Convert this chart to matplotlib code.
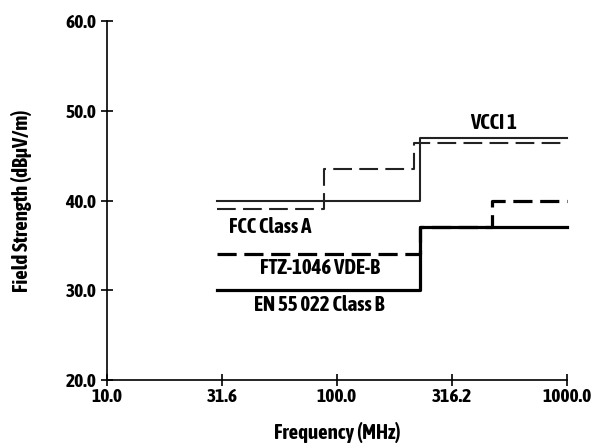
import numpy as np
import matplotlib
matplotlib.use("Agg")
import matplotlib.pyplot as plt
from matplotlib import font_manager

# Grenzwerte (Frequenz in MHz, Feldstaerke in dBuV/m)
vcci_f = [30, 230, 230, 1000]
vcci_db = [40, 40, 47, 47]

fcc_f = [30, 88, 88, 216, 216, 1000]
fcc_db = [39, 39, 43.5, 43.5, 46.4, 46.4]

ftz_f = [30, 230, 230, 470, 470, 1000]
ftz_db = [34, 34, 37, 37, 40, 40]

en_f = [30, 230, 230, 1000]
en_db = [30, 30, 37, 37]

x_ticks = [10.0, 31.6, 100.0, 316.2, 1000.0]
y_ticks = [20.0, 30.0, 40.0, 50.0, 60.0]

# schmale fette Schrift suchen
stretch_num = {'ultra-condensed': 100, 'extra-condensed': 200, 'condensed': 300,
               'semi-condensed': 400, 'normal': 500}
found = None
for f in font_manager.fontManager.ttflist:
    st = f.stretch if isinstance(f.stretch, int) else stretch_num.get(f.stretch, 500)
    w = f.weight if isinstance(f.weight, int) else (700 if 'bold' in str(f.weight) else 400)
    if st <= 400 and w >= 600:
        found = (f.name, f.stretch)
        if 'Narrow' in f.name or 'Condensed' in f.name:
            break
if found:
    plt.rcParams['font.family'] = [found[0], 'DejaVu Sans']
    plt.rcParams['font.stretch'] = found[1]
    fs, fs_tick, fs_lab = 15, 14, 15
else:
    plt.rcParams['font.family'] = ['DejaVu Sans']
    fs, fs_tick, fs_lab = 10.5, 10, 10
plt.rcParams['font.weight'] = 'bold'

fig = plt.figure(figsize=(5.97, 4.43), dpi=100)
ax = fig.add_axes([0.1792, 0.1422, 0.7705, 0.8104])

ax.plot(en_f, en_db, color='black', lw=2.3, clip_on=False)
ax.plot(ftz_f, ftz_db, color='black', lw=2.3, dashes=(6, 2.4), clip_on=False)
ax.plot(vcci_f, vcci_db, color='#222222', lw=1.5, clip_on=False)
ax.plot(fcc_f, fcc_db, color='#222222', lw=1.5, dashes=(9, 3.5), clip_on=False)

ax.set_xscale('log')
ax.set_xlim(10, 1000)
ax.set_ylim(20, 60)
ax.set_xticks(x_ticks)
ax.set_xticklabels([f'{v:.1f}' for v in x_ticks])
ax.minorticks_off()
ax.set_yticks(y_ticks)
ax.set_yticklabels([f'{v:.1f}' for v in y_ticks])

for s in ['top', 'right']:
    ax.spines[s].set_visible(False)
for s in ['left', 'bottom']:
    ax.spines[s].set_linewidth(1.2)
ax.tick_params(direction='inout', length=9, width=1.2, labelsize=fs_tick, pad=3)
ax.tick_params(axis='x', pad=1)

ax.set_xlabel('Frequency (MHz)', fontsize=fs_lab, fontweight='bold', labelpad=12)
ax.set_ylabel('Field Strength (dBµV/m)', fontsize=fs_lab, fontweight='bold', labelpad=24)

ax.text(477, 48.6, 'VCCI 1', ha='center', va='center', fontsize=fs)
ax.text(51, 37.0, 'FCC Class A', ha='center', va='center', fontsize=fs)
ax.text(84, 32.5, 'FTZ-1046 VDE-B', ha='center', va='center', fontsize=fs)
ax.text(84, 28.4, 'EN 55 022 Class B', ha='center', va='center', fontsize=fs)

fig.savefig('out.png', dpi=100)
